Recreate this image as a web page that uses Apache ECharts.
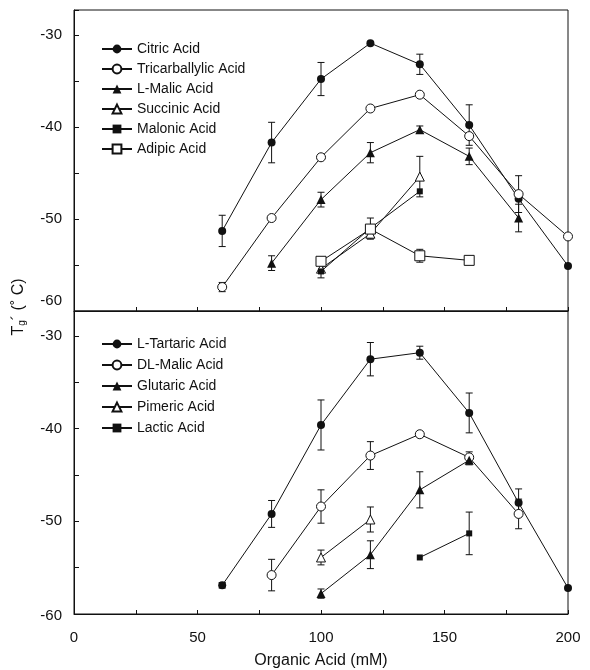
<!DOCTYPE html>
<html>
<head>
<meta charset="utf-8">
<script src="https://cdn.jsdelivr.net/npm/echarts@6/dist/echarts.min.js"></script>
<style>
  html, body { margin: 0; padding: 0; background: #fff; }
  #chart { width: 590px; height: 670px; }
</style>
</head>
<body>
<div id="chart"></div>
<script>
// Organic acid concentrations (mM) shared by every series
const conc = [60, 80, 100, 120, 140, 160, 180, 200];

// Upper panel: Tg' (°C) and standard deviations
const citric      = [-51.3, -41.7, -34.8, -30.9, -33.2, -39.8, -47.8, -55.1];
const citricErr   = [1.7, 2.2, 1.8, 0, 1.1, 2.2, 0, 0];
const tricarb     = [-57.4, -49.9, -43.3, -38.0, -36.5, -41.0, -47.3, -51.9];
const tricarbErr  = [0.5, 0, 0, 0, 0, 0, 2.0, 0];
const lMalic      = [null, -54.8, -47.9, -42.8, -40.3, -43.2, -49.9, null];
const lMalicErr   = [0, 0.8, 0.8, 1.1, 0.4, 0.9, 1.5, 0];
const succinic    = [null, null, -55.4, -51.6, -45.4, null, null, null];
const succinicErr = [0, 0, 0, 0.6, 2.2, 0, 0, 0];
const malonic     = [null, null, -55.7, -51.0, -47.0, null, null, null];
const malonicErr  = [0, 0, 0.7, 1.1, 0, 0, 0, 0];
const adipic      = [null, null, -54.6, -51.1, -54.0, -54.5, null, null];
const adipicErr   = [0, 0, 0, 0, 0.7, 0, 0, 0];

// Lower panel
const tartaric    = [-56.9, -49.2, -39.6, -32.5, -31.8, -38.3, -48.0, -57.2];
const tartaricErr = [0.3, 1.45, 2.7, 1.8, 0.7, 2.15, 1.5, 0];
const dlMalic     = [null, -55.8, -48.4, -42.9, -40.6, -43.1, -49.2, null];
const dlMalicErr  = [0, 1.7, 1.8, 1.5, 0.3, 0.6, 1.6, 0];
const glutaric    = [null, null, -57.8, -53.6, -46.6, -43.4, null, null];
const glutaricErr = [0, 0, 0.5, 1.5, 1.95, 0.5, 0, 0];
const pimeric     = [null, null, -53.9, -49.8, null, null, null, null];
const pimericErr  = [0, 0, 0.8, 1.35, 0, 0, 0, 0];
const lactic      = [null, null, null, null, -53.9, -51.3, null, null];
const lacticErr   = [0, 0, 0, 0, 0, 2.3, 0, 0];

// Axis ticks
const yMin = -60, yMax = -27.3, yStep = 5;
const xMin = 0, xMax = 200, xStep = 25;

const INK = '#111';
const FONT = 'Liberation Sans, Arial, sans-serif';

const markerStyles = {
  filledCircle: { symbol: 'circle', symbolSize: 8, itemStyle: { color: INK } },
  openCircle:   { symbol: 'circle', symbolSize: 9, itemStyle: { color: '#fff', borderColor: INK, borderWidth: 1 } },
  filledTri:    { symbol: 'triangle', symbolSize: 9, itemStyle: { color: INK } },
  openTri:      { symbol: 'triangle', symbolSize: 9, itemStyle: { color: '#fff', borderColor: INK, borderWidth: 1 } },
  filledSquare: { symbol: 'rect', symbolSize: 6, itemStyle: { color: INK } },
  openSquare:   { symbol: 'rect', symbolSize: 10, itemStyle: { color: '#fff', borderColor: INK, borderWidth: 1 } }
};

function points(vals) {
  return conc.map((x, i) => [x, vals[i]]).filter(d => d[1] != null);
}

function lineSeries(name, vals, marker, panel) {
  return Object.assign({
    type: 'line',
    name: name,
    xAxisIndex: panel,
    yAxisIndex: panel,
    data: points(vals),
    lineStyle: { color: INK, width: 1 },
    z: 3
  }, markerStyles[marker]);
}

function errorData(list) {
  const out = [];
  list.forEach(([vals, errs]) => {
    conc.forEach((x, i) => {
      if (vals[i] != null && errs[i] > 0) out.push([x, vals[i], errs[i]]);
    });
  });
  return out;
}

function errorSeries(list, panel) {
  return {
    type: 'custom',
    xAxisIndex: panel,
    yAxisIndex: panel,
    z: 2,
    silent: true,
    data: errorData(list),
    encode: { x: 0, y: 1 },
    renderItem: function (params, api) {
      const x = api.value(0), y = api.value(1), e = api.value(2);
      const hi = api.coord([x, y + e]);
      const lo = api.coord([x, y - e]);
      const w = 3.5;
      const st = { stroke: INK, lineWidth: 1 };
      return {
        type: 'group',
        children: [
          { type: 'line', shape: { x1: hi[0], y1: hi[1], x2: lo[0], y2: lo[1] }, style: st },
          { type: 'line', shape: { x1: hi[0] - w, y1: hi[1], x2: hi[0] + w, y2: hi[1] }, style: st },
          { type: 'line', shape: { x1: lo[0] - w, y1: lo[1], x2: lo[0] + w, y2: lo[1] }, style: st }
        ]
      };
    }
  };
}

function yAxis(panel) {
  return {
    type: 'value',
    gridIndex: panel,
    min: yMin, max: yMax, interval: yStep,
    axisLine: { show: true, lineStyle: { color: INK, width: 1 } },
    axisTick: { show: true, inside: true, length: 5, lineStyle: { color: INK } },
    splitLine: { show: false },
    axisLabel: {
      margin: 12,
      color: INK,
      fontFamily: FONT,
      fontSize: 15,
      formatter: function (v) {
        if (Math.abs(v % 10) > 1e-6) return '';
        if (v === -60) return panel === 0 ? '{up|-60}' : '{down|-60}';
        return String(v);
      },
      rich: {
        up:   { fontFamily: FONT, fontSize: 15, color: INK, padding: [0, 0, 20, 0] },
        down: { fontFamily: FONT, fontSize: 15, color: INK, padding: [4, 0, 0, 0] }
      }
    }
  };
}

function xAxis(panel) {
  const ax = {
    type: 'value',
    gridIndex: panel,
    min: xMin, max: xMax, interval: xStep,
    axisLine: { show: true, lineStyle: { color: INK, width: 1 } },
    axisTick: { show: true, inside: true, length: 4, lineStyle: { color: INK } },
    splitLine: { show: false },
    axisLabel: {
      show: panel === 1,
      margin: 16,
      color: INK,
      fontFamily: FONT,
      fontSize: 15,
      formatter: v => (v % 50 === 0 ? String(v) : '')
    }
  };
  if (panel === 1) {
    ax.name = 'Organic Acid (mM)';
    ax.nameLocation = 'middle';
    ax.nameGap = 39;
    ax.nameTextStyle = { color: INK, fontFamily: FONT, fontSize: 16 };
  }
  return ax;
}

const topNames = ['Citric Acid', 'Tricarballylic Acid', 'L-Malic Acid', 'Succinic Acid', 'Malonic Acid', 'Adipic Acid'];
const bottomNames = ['L-Tartaric Acid', 'DL-Malic Acid', 'Glutaric Acid', 'Pimeric Acid', 'Lactic Acid'];

function legend(names, top, gap) {
  return {
    data: names,
    orient: 'vertical',
    left: 101,
    top: top,
    padding: 0,
    itemWidth: 30,
    itemHeight: 11,
    itemGap: gap,
    selectedMode: false,
    textStyle: { color: INK, fontFamily: FONT, fontSize: 14 },
    inactiveColor: INK
  };
}

const chart = echarts.init(document.getElementById('chart'), null, { renderer: 'canvas' });

chart.setOption({
  backgroundColor: '#fff',
  animation: false,
  grid: [
    { left: 74, right: 22, top: 10, height: 301, show: true, borderColor: INK, borderWidth: 1, backgroundColor: 'transparent' },
    { left: 74, right: 22, top: 311, height: 303, show: true, borderColor: INK, borderWidth: 1, backgroundColor: 'transparent' }
  ],
  xAxis: [xAxis(0), xAxis(1)],
  yAxis: [yAxis(0), yAxis(1)],
  legend: [legend(topNames, 42, 6), legend(bottomNames, 337, 7)],
  graphic: [{
    type: 'text',
    x: 19,
    y: 307,
    rotation: Math.PI / 2,
    style: {
      text: 'T{g|g}\u00b4 (\u02da C)',
      fill: INK,
      font: '16px ' + FONT,
      align: 'center',
      verticalAlign: 'middle',
      rich: { g: { fontSize: 10, fontFamily: FONT, fill: INK, padding: [6, 0, 0, 0] } }
    }
  }],
  series: [
    errorSeries([[citric, citricErr], [tricarb, tricarbErr], [lMalic, lMalicErr],
                 [succinic, succinicErr], [malonic, malonicErr], [adipic, adipicErr]], 0),
    lineSeries('Citric Acid', citric, 'filledCircle', 0),
    lineSeries('Tricarballylic Acid', tricarb, 'openCircle', 0),
    lineSeries('L-Malic Acid', lMalic, 'filledTri', 0),
    lineSeries('Succinic Acid', succinic, 'openTri', 0),
    lineSeries('Malonic Acid', malonic, 'filledSquare', 0),
    lineSeries('Adipic Acid', adipic, 'openSquare', 0),

    errorSeries([[tartaric, tartaricErr], [dlMalic, dlMalicErr], [glutaric, glutaricErr],
                 [pimeric, pimericErr], [lactic, lacticErr]], 1),
    lineSeries('L-Tartaric Acid', tartaric, 'filledCircle', 1),
    lineSeries('DL-Malic Acid', dlMalic, 'openCircle', 1),
    lineSeries('Glutaric Acid', glutaric, 'filledTri', 1),
    lineSeries('Pimeric Acid', pimeric, 'openTri', 1),
    lineSeries('Lactic Acid', lactic, 'filledSquare', 1)
  ]
});
</script>
</body>
</html>
